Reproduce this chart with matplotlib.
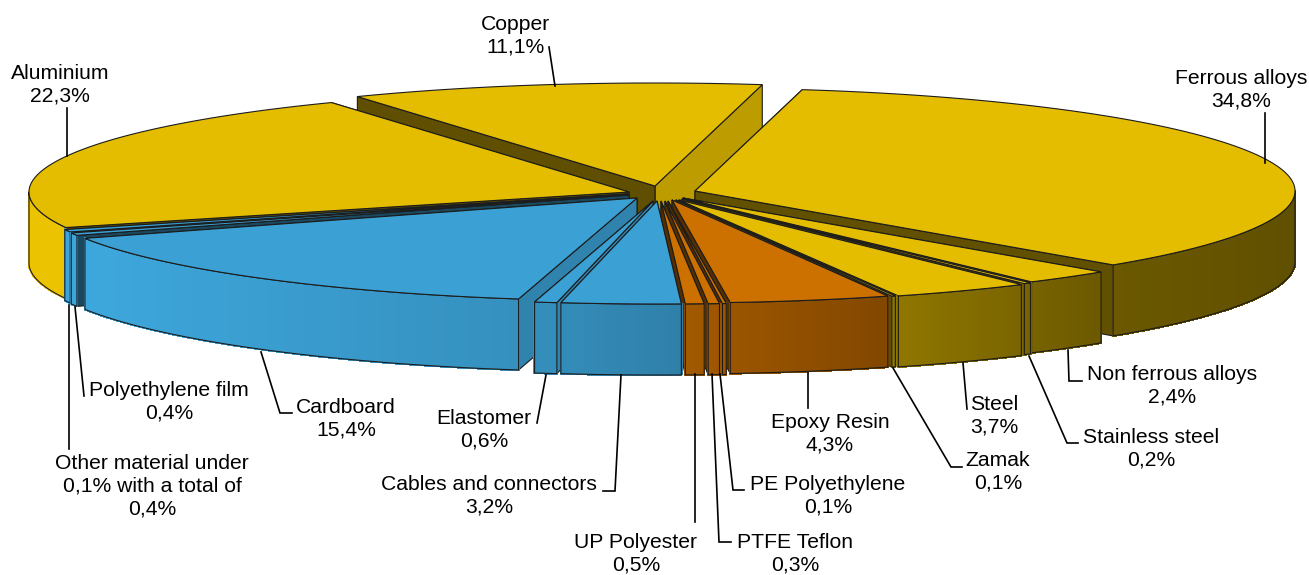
import matplotlib
matplotlib.use("Agg")
import matplotlib.pyplot as plt
from matplotlib.collections import PolyCollection
from matplotlib.patches import Polygon
import numpy as np

plt.rcParams["font.family"] = ["Liberation Sans", "DejaVu Sans"]

# slices clockwise from the top
materials = ["Ferrous alloys", "Non ferrous alloys", "Stainless steel", "Steel", "Zamak",
             "Epoxy Resin", "PE Polyethylene", "PTFE Teflon", "UP Polyester",
             "Cables and connectors", "Elastomer", "Cardboard", "Polyethylene film",
             "Other material under\n0,1% with a total of", "Aluminium", "Copper"]
shares = [34.8, 2.4, 0.2, 3.7, 0.1, 4.3, 0.1, 0.3, 0.5, 3.2, 0.6, 15.4, 0.4, 0.4, 22.3, 11.1]
groups = ["metal", "metal", "metal", "metal", "metal",
          "plastic", "plastic", "plastic", "plastic",
          "blue", "blue", "blue", "blue", "blue", "metal", "metal"]

# exploded position of each slice's tip, in pixels
tip_x = [695, 683, 682, 679, 676, 672, 668, 665, 661, 657, 653, 637, 629, 628, 629, 655]
tip_y = [191, 198, 199, 200, 200, 200, 201, 201, 201, 201, 201, 198, 195, 194, 192, 186]

base = {"metal": (0.898, 0.741, 0.0), "plastic": (0.80, 0.44, 0.0), "blue": (0.231, 0.627, 0.827)}

start_angle = 10.3
rx, ry, depth = 600, 103, 71
edge = "#1c1c1c"


def shade_at(x):
    return np.interp(x, [60, 100, 520, 680, 880, 1100, 1300], [1.03, 1.04, 0.90, 0.80, 0.64, 0.47, 0.42])


def face_shade(normal):
    return np.interp(normal % 360, [90, 110, 150, 240, 270], [0.85, 0.8, 0.45, 0.42, 0.42])


def dim(rgb, k):
    return tuple(min(c * k, 1.0) for c in rgb)


def arc(cx, cy, a0, a1, n=60):
    t = np.radians(np.linspace(a0, a1, n))
    return cx + rx * np.sin(t), cy - ry * np.cos(t)


fig = plt.figure(figsize=(13.09, 5.75), dpi=100)
ax = fig.add_axes([0, 0, 1, 1])
ax.set_xlim(0, 1309)
ax.set_ylim(575, 0)
ax.axis("off")

sizes = np.array(shares) / sum(shares) * 360
starts = start_angle + np.concatenate([[0], np.cumsum(sizes)[:-1]])
ends = starts + sizes
mids = (starts + ends) / 2
# back slices first, the cables slice sits on top of everything
order = np.argsort(-np.abs(mids - mids[9]))

z = 2
for i in order:
    cx, cy, col = tip_x[i], tip_y[i], base[groups[i]]
    a0, a1 = starts[i], ends[i]

    # the two cut faces, rear one first
    faces = [(a0, a0 - 90), (a1, a1 + 90)]
    faces.sort(key=lambda f: np.cos(np.radians(f[0])), reverse=True)
    for ang, normal in faces:
        ex, ey = arc(cx, cy, ang, ang, 1)
        pts = [(cx, cy), (ex[0], ey[0]), (ex[0], ey[0] + depth), (cx, cy + depth)]
        ax.add_patch(Polygon(pts, closed=True, fc=dim(col, face_shade(normal)), ec=edge, lw=0.8, zorder=z))
        z += 1

    # outer wall, only the part that faces the viewer
    w0, w1 = max(a0, 90), min(a1, 270)
    if w1 > w0:
        ax_, ay_ = arc(cx, cy, w0, w1, max(int((w1 - w0) * 3), 4))
        quads = [[(ax_[k], ay_[k]), (ax_[k + 1], ay_[k + 1]), (ax_[k + 1], ay_[k + 1] + depth), (ax_[k], ay_[k] + depth)]
                 for k in range(len(ax_) - 1)]
        cols = [dim(col, shade_at((ax_[k] + ax_[k + 1]) / 2)) for k in range(len(ax_) - 1)]
        ax.add_collection(PolyCollection(quads, facecolors=cols, edgecolors=cols, linewidths=1.0,
                                         antialiaseds=False, zorder=z))
        z += 1
        outline = list(zip(ax_, ay_)) + list(zip(ax_[::-1], ay_[::-1] + depth))
        ax.add_patch(Polygon(outline, closed=True, fill=False, ec=edge, lw=0.8, zorder=z))
        z += 1

    # top face
    tx, ty = arc(cx, cy, a0, a1, max(int(sizes[i] * 3), 4))
    ax.add_patch(Polygon([(cx, cy)] + list(zip(tx, ty)), closed=True, fc=col, ec=edge, lw=0.8, zorder=z))
    z += 1

# leader lines, drawn over the pie
leaders = [
    [(549, 47), (555, 86)],
    [(67, 108), (67, 156)],
    [(1265, 113), (1265, 163)],
    [(1068, 350), (1069, 381), (1082, 381)],
    [(1029, 356), (1067, 443), (1078, 443)],
    [(963, 363), (967, 409)],
    [(893, 368), (951, 467), (962, 467)],
    [(808, 373), (808, 408)],
    [(720, 374), (733, 490), (744, 490)],
    [(712, 374), (719, 542), (731, 542)],
    [(695, 374), (695, 522)],
    [(621, 375), (615, 491), (603, 491)],
    [(546, 375), (537, 423)],
    [(261, 352), (280, 413), (292, 413)],
    [(75, 307), (84, 396)],
    [(69, 305), (69, 449)],
]
for line in leaders:
    xs, ys = zip(*line)
    ax.plot(xs, ys, color="black", lw=1.2, solid_joinstyle="miter", zorder=z)

labels = [
    ("Copper\n11,1%", 515, 35.5),
    ("Aluminium\n22,3%", 60, 85),
    ("Ferrous alloys\n34,8%", 1241, 90),
    ("Non ferrous alloys\n2,4%", 1172, 386),
    ("Stainless steel\n0,2%", 1151, 449),
    ("Steel\n3,7%", 994, 415.5),
    ("Zamak\n0,1%", 998, 472),
    ("Epoxy Resin\n4,3%", 830, 433.5),
    ("PE Polyethylene\n0,1%", 828, 495.5),
    ("PTFE Teflon\n0,3%", 795, 554),
    ("UP Polyester\n0,5%", 636, 554),
    ("Cables and connectors\n3,2%", 489, 495.5),
    ("Elastomer\n0,6%", 484, 429.5),
    ("Cardboard\n15,4%", 346, 418.5),
    ("Polyethylene film\n0,4%", 169, 401.5),
    ("Other material under\n0,1% with a total of\n0,4%", 152, 486.5),
]
for text, x, y in labels:
    ax.text(x, y, text, ha="center", va="center", fontsize=15.2, color="black", linespacing=1.26, zorder=z + 1)

fig.savefig("out.png", dpi=100)
